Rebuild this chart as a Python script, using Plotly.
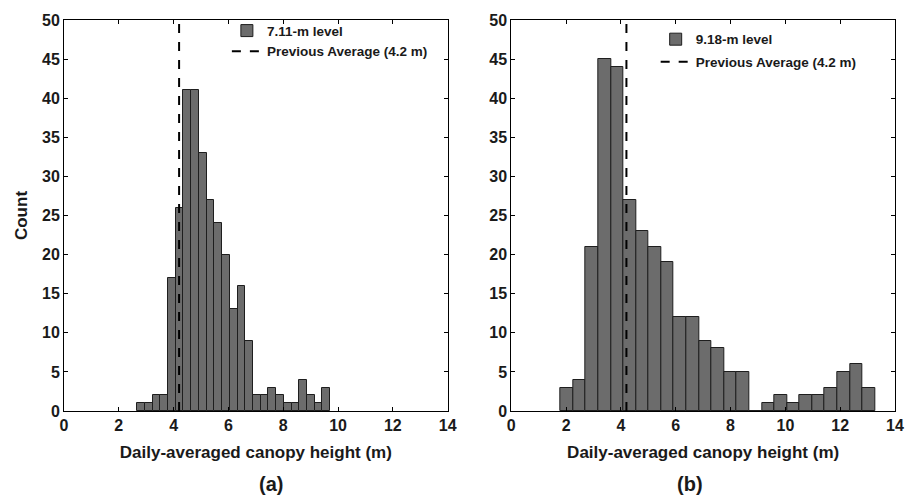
import numpy as np
import plotly.graph_objects as go
from plotly.subplots import make_subplots

# ---- data ----
counts_a = [1, 1, 2, 2, 17, 26, 41, 41, 33, 27, 24, 20, 13, 16, 9,
            2, 2, 3, 2, 1, 1, 4, 2, 1, 3]
range_a = (2.67, 9.71)          # histogram range (m), 25 bins
counts_b = [3, 4, 21, 45, 44, 27, 23, 21, 19, 12, 12, 9, 8, 5, 5,
            0, 1, 2, 1, 2, 2, 3, 5, 6, 3]
range_b = (1.80, 13.27)         # histogram range (m), 25 bins
prev_avg = 4.2
label_a = "7.11-m level"
label_b = "9.18-m level"
avg_label = "Previous Average (4.2 m)"
x_ticks = [0, 2, 4, 6, 8, 10, 12, 14]
y_ticks = [0, 5, 10, 15, 20, 25, 30, 35, 40, 45, 50]


def bins(rng, n):
    edges = np.linspace(rng[0], rng[1], n + 1)
    return (edges[:-1] + edges[1:]) / 2, edges[1] - edges[0]


xa, wa = bins(range_a, len(counts_a))
xb, wb = bins(range_b, len(counts_b))

FONT = "Liberation Sans, Arial, sans-serif"
BAR = "#6c6c6c"
EDGE = "#1e1e1e"
TXT = "#1a1a1a"

fig = make_subplots(rows=1, cols=2, horizontal_spacing=0.0766)

fig.add_trace(go.Bar(x=xa, y=counts_a, width=wa, name="<b>" + label_a + "</b>",
                     marker=dict(color=BAR, line=dict(color=EDGE, width=1)),
                     legend="legend", legendgroup="a1"), 1, 1)
fig.add_trace(go.Scatter(x=[prev_avg, prev_avg], y=[0, 50], mode="lines",
                         name="<b>" + avg_label + "</b>",
                         line=dict(color="black", width=2, dash="dash"),
                         legend="legend", legendgroup="a2"), 1, 1)
fig.add_trace(go.Bar(x=xb, y=counts_b, width=wb, name="<b>" + label_b + "</b>",
                     marker=dict(color=BAR, line=dict(color=EDGE, width=1)),
                     legend="legend2", legendgroup="b1"), 1, 2)
fig.add_trace(go.Scatter(x=[prev_avg, prev_avg], y=[0, 50], mode="lines",
                         name="<b>" + avg_label + "</b>",
                         line=dict(color="black", width=2, dash="dash"),
                         legend="legend2", legendgroup="b2"), 1, 2)

axis_common = dict(showline=True, linecolor="black", linewidth=1, mirror="ticks",
                   ticks="inside", ticklen=4, tickcolor="black", showgrid=False,
                   zeroline=False,
                   tickfont=dict(family=FONT, size=16, color=TXT))

for c in (1, 2):
    fig.update_xaxes(range=[0, 14], tickvals=x_ticks,
                     ticktext=["<b>%d</b>" % v for v in x_ticks],
                     title=dict(text="<b>Daily-averaged canopy height (m)</b>",
                                font=dict(family=FONT, size=17, color=TXT),
                                standoff=12),
                     row=1, col=c, **axis_common)
    fig.update_yaxes(range=[0, 50], tickvals=y_ticks,
                     ticktext=["<b>%d</b>" % v for v in y_ticks],
                     row=1, col=c, **axis_common)

fig.update_yaxes(title=dict(text="<b>Count</b>",
                            font=dict(family=FONT, size=17, color=TXT),
                            standoff=10), row=1, col=1)

legend_font = dict(family=FONT, size=13.5, color=TXT)
fig.update_layout(
    width=916, height=504,
    margin=dict(l=64, r=17, t=15, b=93),
    paper_bgcolor="white", plot_bgcolor="white",
    bargap=0,
    showlegend=True,
    legend=dict(x=0.196, y=1.012, xanchor="left", yanchor="top",
                bgcolor="rgba(0,0,0,0)", font=legend_font,
                tracegroupgap=0, traceorder="grouped"),
    legend2=dict(x=0.712, y=0.99, xanchor="left", yanchor="top",
                 bgcolor="rgba(0,0,0,0)", font=legend_font,
                 tracegroupgap=2, traceorder="grouped"),
    annotations=[
        dict(text="<b>(a)</b>", x=0.2323, y=-0.187, xref="paper", yref="paper",
             yanchor="middle", showarrow=False,
             font=dict(family=FONT, size=20, color=TXT)),
        dict(text="<b>(b)</b>", x=0.7713, y=-0.187, xref="paper", yref="paper",
             yanchor="middle", showarrow=False,
             font=dict(family=FONT, size=20, color=TXT)),
    ],
)

fig.write_html("out.html")
